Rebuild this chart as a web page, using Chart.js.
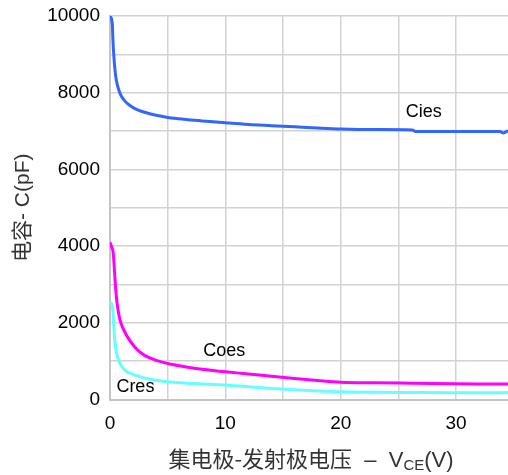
<!DOCTYPE html>
<html>
<head>
<meta charset="utf-8">
<script src="https://cdn.jsdelivr.net/npm/chart.js@4"></script>
<style>
  html, body { margin: 0; padding: 0; background: #ffffff; }
  #wrap { width: 508px; height: 475px; position: relative; }
</style>
</head>
<body>
<div id="wrap"><canvas id="c"></canvas></div>
<script>
// ---- data ----
const vce  = [0, 0.2, 0.25, 0.3, 0.4, 0.5, 0.6, 0.8, 1, 1.25, 1.5, 2, 2.5, 3, 4, 5, 6, 7, 8, 10, 12, 14, 16, 18, 20, 23, 26.2, 26.5, 30, 33.8, 34.1, 34.5];
const cies = [10000, 9800, 9400, 9100, 8700, 8420, 8250, 8040, 7900, 7800, 7720, 7610, 7540, 7490, 7410, 7355, 7320, 7290, 7265, 7215, 7170, 7140, 7110, 7080, 7055, 7040, 7030, 6990, 6990, 6990, 6950, 7010];
const coes = [4100, 3930, 3880, 3750, 3300, 2850, 2550, 2160, 1950, 1780, 1640, 1420, 1260, 1150, 1020, 940, 880, 830, 790, 723, 665, 605, 548, 497, 452, 435, 424, 423, 410, 404, 403, 402];
const cres = [2530, 2450, 2300, 2050, 1600, 1330, 1170, 980, 870, 780, 720, 655, 605, 560, 500, 463, 440, 420, 405, 377, 330, 287, 252, 224, 202, 190, 182, 181, 174, 176, 178, 180];
const seriesNames = ['Cies', 'Coes', 'Cres'];
const yTickLabels = [0, 2000, 4000, 6000, 8000, 10000];
const xTickLabels = [0, 10, 20, 30];
const yTitle = '电容- C(pF)';
const xTitleCjk = '集电极-发射极电压';
const xTitleDash = '  –  V';
const xTitleSub = 'CE';
const xTitleTail = '(V)';

const FONT = "'Liberation Sans', Arial, 'Noto Sans CJK SC', sans-serif";
const CJK = "'Noto Sans CJK SC', 'Liberation Sans', sans-serif";

function pts(ys) { return vce.map((x, i) => ({ x: x, y: ys[i] })); }

const curveLabels = {
  id: 'curveLabels',
  afterDatasetsDraw(chart, args, opts) {
    const { ctx, scales } = chart;
    ctx.save();
    ctx.font = '18px ' + FONT;
    ctx.fillStyle = '#000';
    ctx.textAlign = 'center';
    ctx.textBaseline = 'middle';
    opts.items.forEach(it => {
      ctx.fillText(it.text, scales.x.getPixelForValue(it.x), scales.y.getPixelForValue(it.y));
    });
    ctx.restore();
  }
};

const xTitlePlugin = {
  id: 'xTitlePlugin',
  afterDraw(chart) {
    const { ctx, chartArea } = chart;
    ctx.save();
    ctx.fillStyle = '#333';
    ctx.textBaseline = 'alphabetic';
    ctx.textAlign = 'left';
    const mainFont = '22px ' + CJK;
    const latinFont = '22px ' + FONT;
    const subFont = '15px ' + FONT;
    ctx.font = mainFont; const w1 = ctx.measureText(xTitleCjk).width;
    ctx.font = latinFont; const w2 = ctx.measureText(xTitleDash).width;
    ctx.font = subFont; const w3 = ctx.measureText(xTitleSub).width;
    ctx.font = latinFont; const w4 = ctx.measureText(xTitleTail).width;
    const total = w1 + w2 + w3 + w4;
    let x = (chartArea.left + chartArea.right) / 2 + 2 - total / 2;
    const base = 467;
    ctx.font = mainFont; ctx.fillText(xTitleCjk, x, base); x += w1;
    ctx.font = latinFont; ctx.fillText(xTitleDash, x, base); x += w2;
    ctx.font = subFont; ctx.fillText(xTitleSub, x, base + 3); x += w3;
    ctx.font = latinFont; ctx.fillText(xTitleTail, x, base);
    ctx.restore();
  }
};

new Chart(document.getElementById('c'), {
  type: 'line',
  data: {
    datasets: [
      { label: seriesNames[0], data: pts(cies), borderColor: '#3366ff', borderWidth: 3 },
      { label: seriesNames[1], data: pts(coes), borderColor: '#ff00ff', borderWidth: 3 },
      { label: seriesNames[2], data: pts(cres), borderColor: '#66ffff', borderWidth: 3 }
    ]
  },
  options: {
    responsive: true,
    maintainAspectRatio: false,
    animation: false,
    devicePixelRatio: 1,
    layout: { padding: { top: 16, right: 0, left: 0, bottom: 0 } },
    elements: { point: { radius: 0 }, line: { cubicInterpolationMode: 'monotone', fill: false } },
    plugins: {
      legend: { display: false },
      tooltip: { enabled: false },
      curveLabels: {
        items: [
          { text: seriesNames[0], x: 27.2, y: 7500 },
          { text: seriesNames[1], x: 9.9, y: 1270 },
          { text: seriesNames[2], x: 2.2, y: 335 }
        ]
      }
    },
    scales: {
      x: {
        type: 'linear',
        min: 0, max: 34.5,
        afterFit(s) { s.height = 75.5; },
        grid: { color: '#d2d2d2', lineWidth: 1.5, drawTicks: false },
        border: { color: '#c4c4c4', width: 2 },
        ticks: {
          stepSize: 5, includeBounds: false, autoSkip: false, maxRotation: 0,
          padding: 13, color: '#000', font: { family: FONT, size: 19 },
          callback: v => xTickLabels.includes(v) ? String(v) : ''
        }
      },
      y: {
        min: 0, max: 10000,
        afterFit(s) { s.width = 110; },
        grid: { color: '#d2d2d2', lineWidth: 1.5, drawTicks: true, tickLength: 10, tickColor: 'rgba(0,0,0,0)' },
        border: { color: '#c4c4c4', width: 2 },
        ticks: {
          stepSize: 1000, autoSkip: false, padding: 0, color: '#000',
          font: { family: FONT, size: 19 },
          callback: v => yTickLabels.includes(v) ? String(v) : ''
        },
        title: {
          display: true, text: yTitle, color: '#333',
          font: { family: FONT, size: 21 },
          padding: { top: 11, bottom: 0 }
        }
      }
    }
  },
  plugins: [curveLabels, xTitlePlugin]
});
</script>
</body>
</html>
